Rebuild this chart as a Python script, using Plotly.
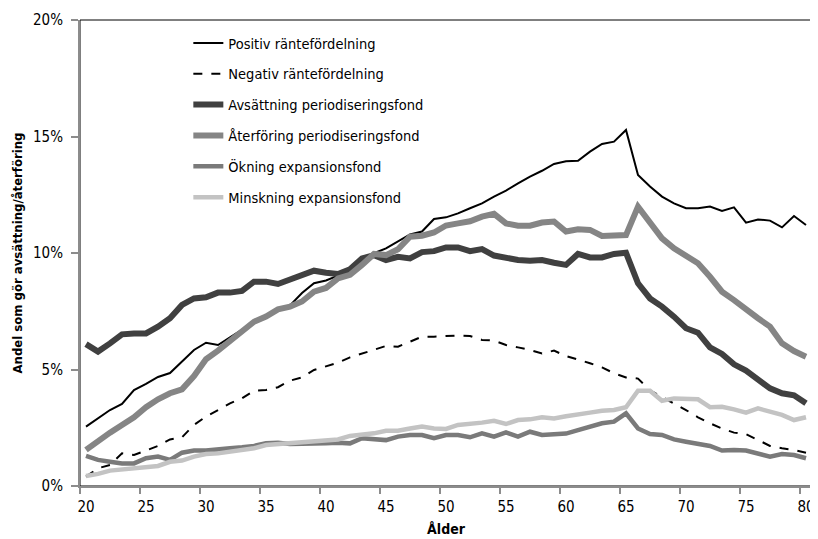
import plotly.graph_objects as go

FONT = "DejaVu Sans Condensed, Liberation Sans Narrow, Roboto Condensed, Liberation Sans, sans-serif"

ages = list(range(20, 81))

# Andel (%) per ålder 20..80
positiv = [2.55, 2.9, 3.26, 3.52, 4.12, 4.38, 4.68, 4.85, 5.33, 5.84,
           6.15, 6.05, 6.38, 6.7, 7.03, 7.25, 7.55, 7.75, 8.28, 8.7,
           8.82, 9.03, 9.27, 9.56, 9.99, 10.2, 10.49, 10.8, 10.92, 11.46,
           11.53, 11.7, 11.92, 12.13, 12.42, 12.68, 12.99, 13.28, 13.53, 13.82,
           13.94, 13.96, 14.35, 14.68, 14.78, 15.28, 13.35, 12.85, 12.42, 12.13,
           11.92, 11.92, 11.99, 11.8, 11.96, 11.3, 11.44, 11.39, 11.1, 11.59,
           11.2]

negativ = [0.4, 0.76, 0.9, 1.4, 1.33, 1.52, 1.72, 2.0, 2.09, 2.62,
           2.98, 3.26, 3.55, 3.76, 4.09, 4.12, 4.24, 4.52, 4.66, 4.98,
           5.12, 5.29, 5.52, 5.69, 5.87, 6.01, 5.98, 6.19, 6.41, 6.41,
           6.44, 6.46, 6.44, 6.27, 6.24, 6.05, 5.95, 5.84, 5.69, 5.81,
           5.58, 5.44, 5.27, 5.09, 4.84, 4.66, 4.61, 4.1, 3.83, 3.55,
           3.26, 2.95, 2.69, 2.47, 2.29, 2.23, 1.97, 1.72, 1.62, 1.55,
           1.43]

avsattning = [6.09, 5.77, 6.12, 6.51, 6.55, 6.55, 6.84, 7.2, 7.77, 8.05,
              8.1, 8.3, 8.3, 8.37, 8.77, 8.77, 8.67, 8.87, 9.1, 9.24,
              9.15, 9.1, 9.3, 9.77, 9.91, 9.7, 9.84, 9.77, 10.04, 10.08,
              10.24, 10.24, 10.08, 10.17, 9.89, 9.77, 9.7, 9.67, 9.7, 9.58,
              9.49, 9.96, 9.81, 9.81, 9.96, 10.01, 8.7, 8.05, 7.7, 7.27,
              6.77, 6.58, 5.95, 5.67, 5.22, 4.95, 4.55, 4.19, 3.98, 3.89,
              3.55]

aterforing = [1.55, 1.95, 2.29, 2.62, 2.95, 3.38, 3.72, 3.98, 4.15, 4.72,
              5.44, 5.81, 6.24, 6.62, 7.05, 7.27, 7.58, 7.7, 7.92, 8.34,
              8.5, 8.91, 9.06, 9.49, 9.96, 9.91, 10.16, 10.7, 10.74, 10.88,
              11.18, 11.27, 11.36, 11.56, 11.68, 11.27, 11.17, 11.17, 11.31, 11.35,
              10.92, 11.02, 10.99, 10.73, 10.73, 10.77, 11.99, 11.34, 10.63, 10.2,
              9.91, 9.56, 8.98, 8.34, 7.98, 7.55, 7.2, 6.84, 6.12, 5.79,
              5.55]

okning = [1.29, 1.12, 1.04, 0.97, 0.97, 1.19, 1.26, 1.12, 1.43, 1.52,
          1.52, 1.55, 1.62, 1.66, 1.72, 1.83, 1.86, 1.8, 1.8, 1.8,
          1.83, 1.86, 1.83, 2.05, 2.0, 1.97, 2.12, 2.19, 2.19, 2.05,
          2.19, 2.19, 2.09, 2.26, 2.12, 2.3, 2.12, 2.33, 2.19, 2.22,
          2.25, 2.4, 2.55, 2.69, 2.76, 3.12, 2.47, 2.23, 2.19, 2.0,
          1.9, 1.83, 1.72, 1.52, 1.55, 1.52, 1.37, 1.26, 1.37, 1.33,
          1.19]

minskning = [0.43, 0.52, 0.66, 0.72, 0.76, 0.8, 0.86, 1.04, 1.09, 1.26,
             1.37, 1.4, 1.47, 1.55, 1.62, 1.76, 1.8, 1.86, 1.86, 1.9,
             1.94, 2.0, 2.15, 2.19, 2.26, 2.37, 2.37, 2.47, 2.55, 2.47,
             2.45, 2.62, 2.66, 2.72, 2.8, 2.66, 2.83, 2.86, 2.95, 2.9,
             2.99, 3.05, 3.15, 3.23, 3.26, 3.38, 4.09, 4.09, 3.66, 3.76,
             3.76, 3.72, 3.38, 3.4, 3.29, 3.15, 3.33, 3.19, 3.05, 2.83,
             2.95]

series = [
    ("Positiv räntefördelning", positiv, "#000000", 2, "solid"),
    ("Negativ räntefördelning", negativ, "#000000", 2, "dash"),
    ("Avsättning periodiseringsfond", avsattning, "#404040", 6, "solid"),
    ("Återföring periodiseringsfond", aterforing, "#858585", 6, "solid"),
    ("Ökning expansionsfond", okning, "#7a7a7a", 4.5, "solid"),
    ("Minskning expansionsfond", minskning, "#c3c3c3", 4.5, "solid"),
]

fig = go.Figure()
for i, (name, vals, color, width, dash) in enumerate(series):
    fig.add_trace(go.Scatter(
        x=ages,
        y=[v / 100 for v in vals],
        mode="lines",
        name=name,
        legendgroup=str(i),
        line=dict(color=color, width=width, dash=dash),
    ))

# plot area frame: black top/right, grey axes left/bottom
fig.add_shape(type="rect", xref="paper", yref="paper", x0=0, y0=0, x1=1, y1=1,
              line=dict(color="black", width=1), layer="below")

# page body has an 8px margin, so the figure is 8px smaller than the window
fig.update_layout(
    width=810,
    height=531,
    margin=dict(l=72, r=3, t=12, b=53),
    plot_bgcolor="white",
    paper_bgcolor="white",
    font=dict(family=FONT, size=15, color="black"),
    showlegend=True,
    legend=dict(
        x=0.148, y=0.985, xanchor="left", yanchor="top",
        traceorder="grouped", tracegroupgap=9,
        bgcolor="rgba(0,0,0,0)",
        font=dict(family=FONT, size=14.5),
    ),
    xaxis=dict(
        range=[19.5, 80.5],
        tickvals=list(range(20, 81, 5)),
        ticks="",
        ticklabelstandoff=6,
        showgrid=False,
        showline=True, linecolor="#8c8c8c", linewidth=2,
        minor=dict(tickvals=[a - 0.5 for a in range(20, 81, 5)],
                   ticks="outside", ticklen=6, tickcolor="#8c8c8c", tickwidth=2),
        title=dict(text="<b>Ålder</b>", standoff=9, font=dict(size=14)),
        zeroline=False,
    ),
    yaxis=dict(
        range=[0, 0.2],
        tickvals=[0, 0.05, 0.1, 0.15, 0.2],
        tickformat=".0%",
        ticks="outside", ticklen=7, tickcolor="#8c8c8c", tickwidth=2,
        ticklabelstandoff=5,
        showgrid=False,
        showline=True, linecolor="#8c8c8c", linewidth=2,
        title=dict(text="<b>Andel som gör avsättning/återföring</b>", standoff=7,
                   font=dict(size=13)),
        zeroline=False,
    ),
)

fig.write_html("out.html")
